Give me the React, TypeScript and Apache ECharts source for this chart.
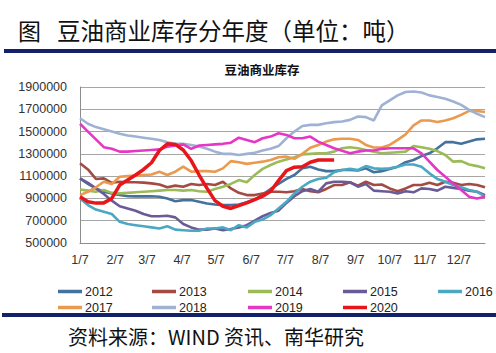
import React, { useEffect, useRef } from "react";
import * as echarts from "echarts";

// Tick labels (month/day) and their day offsets from Jan 7
const MONTH_LABELS = ["1/7", "2/7", "3/7", "4/7", "5/7", "6/7", "7/7", "8/7", "9/7", "10/7", "11/7", "12/7"];
const MONTH_DAYS = [0, 31, 59, 90, 120, 151, 181, 212, 243, 273, 304, 334];

const YEARS = ["2012", "2013", "2014", "2015", "2016", "2017", "2018", "2019", "2020"];
const COLORS = ["#43729F", "#A34A43", "#9BBB59", "#6A5B96", "#4BA8C3", "#E99A4E", "#9FB2D4", "#E536C6", "#E8151B"];

// Weekly commercial soybean-oil stocks (tons), first week = Jan 7
const S2012 = [1080000, 1030000, 990000, 960000, 945000, 930000, 920000, 918000, 918000, 920000, 915000, 900000, 875000, 885000, 885000, 870000, 855000, 845000, 840000, 840000, 845000, 865000, 890000, 935000, 985000, 1030000, 1075000, 1110000, 1170000, 1185000, 1160000, 1145000, 1145000, 1155000, 1155000, 1150000, 1170000, 1135000, 1145000, 1165000, 1185000, 1225000, 1245000, 1280000, 1305000, 1350000, 1405000, 1405000, 1390000, 1410000, 1430000, 1435000];
const S2013 = [1215000, 1160000, 1075000, 1080000, 1040000, 1050000, 1045000, 1045000, 1042000, 1035000, 1025000, 1000000, 1015000, 1005000, 1030000, 1020000, 1030000, 1020000, 1050000, 990000, 950000, 930000, 930000, 945000, 960000, 960000, 955000, 965000, 985000, 965000, 955000, 985000, 1020000, 1020000, 1045000, 1015000, 1050000, 1020000, 1025000, 990000, 965000, 990000, 1020000, 1020000, 1040000, 1020000, 1050000, 1040000, 1020000, 1030000, 1020000, 1000000];
const S2014 = [980000, 970000, 960000, 975000, 950000, 945000, 950000, 955000, 960000, 965000, 970000, 975000, 975000, 970000, 975000, 965000, 960000, 985000, 1005000, 1030000, 1065000, 1045000, 1110000, 1165000, 1200000, 1230000, 1250000, 1270000, 1295000, 1300000, 1305000, 1305000, 1320000, 1350000, 1360000, 1350000, 1335000, 1320000, 1305000, 1310000, 1315000, 1320000, 1370000, 1360000, 1345000, 1325000, 1290000, 1230000, 1235000, 1205000, 1190000, 1170000];
const S2015 = [1080000, 1040000, 990000, 940000, 880000, 830000, 810000, 790000, 760000, 740000, 740000, 745000, 730000, 670000, 640000, 620000, 620000, 630000, 615000, 625000, 640000, 660000, 700000, 740000, 770000, 790000, 860000, 920000, 965000, 985000, 960000, 1035000, 1050000, 1050000, 1045000, 1005000, 1030000, 970000, 965000, 960000, 945000, 965000, 955000, 990000, 985000, 970000, 1005000, 995000, 985000, 970000, 960000, 930000];
const S2016 = [900000, 840000, 800000, 780000, 760000, 690000, 670000, 660000, 650000, 640000, 630000, 650000, 620000, 615000, 610000, 610000, 630000, 630000, 640000, 615000, 660000, 640000, 690000, 710000, 750000, 810000, 870000, 945000, 1005000, 1050000, 1075000, 1085000, 1135000, 1155000, 1165000, 1155000, 1190000, 1170000, 1165000, 1170000, 1185000, 1205000, 1205000, 1185000, 1125000, 1075000, 1050000, 1020000, 1000000, 975000, 960000, 915000];
const S2017 = [930000, 960000, 1000000, 1050000, 1030000, 1095000, 1100000, 1105000, 1110000, 1115000, 1140000, 1110000, 1140000, 1185000, 1140000, 1145000, 1145000, 1140000, 1170000, 1235000, 1225000, 1210000, 1220000, 1230000, 1245000, 1270000, 1275000, 1255000, 1300000, 1355000, 1380000, 1410000, 1430000, 1435000, 1435000, 1425000, 1380000, 1357000, 1357000, 1380000, 1425000, 1475000, 1555000, 1600000, 1600000, 1585000, 1600000, 1620000, 1650000, 1685000, 1685000, 1675000];
const S2018 = [1620000, 1570000, 1540000, 1520000, 1500000, 1480000, 1465000, 1455000, 1445000, 1435000, 1425000, 1405000, 1390000, 1390000, 1380000, 1365000, 1345000, 1320000, 1300000, 1300000, 1290000, 1300000, 1310000, 1330000, 1345000, 1370000, 1440000, 1500000, 1550000, 1560000, 1560000, 1575000, 1585000, 1590000, 1605000, 1635000, 1630000, 1600000, 1735000, 1780000, 1825000, 1855000, 1860000, 1850000, 1825000, 1810000, 1795000, 1770000, 1740000, 1695000, 1660000, 1630000];
const S2019 = [1570000, 1500000, 1430000, 1360000, 1345000, 1320000, 1320000, 1325000, 1330000, 1335000, 1340000, 1365000, 1375000, 1385000, 1345000, 1375000, 1380000, 1385000, 1390000, 1400000, 1445000, 1425000, 1405000, 1440000, 1455000, 1485000, 1470000, 1440000, 1440000, 1455000, 1410000, 1380000, 1350000, 1327000, 1305000, 1320000, 1330000, 1330000, 1345000, 1350000, 1350000, 1350000, 1350000, 1305000, 1230000, 1155000, 1095000, 1035000, 975000, 915000, 900000, 915000];
const S2020 = [915000, 870000, 858000, 860000, 900000, 1020000, 1065000, 1110000, 1160000, 1220000, 1330000, 1390000, 1385000, 1335000, 1240000, 1110000, 990000, 880000, 830000, 810000, 835000, 860000, 890000, 920000, 965000, 1060000, 1150000, 1180000, 1185000, 1225000, 1245000, 1245000, 1245000];

const ALL = [S2012, S2013, S2014, S2015, S2016, S2017, S2018, S2019, S2020];

const LEGEND_POS = [
  [53, 280], [147, 280], [243, 280], [338, 280], [433, 280],
  [53, 296], [147, 296], [243, 296], [338, 296],
];

export default function App() {
  const ref = useRef<HTMLDivElement>(null);
  useEffect(() => {
    if (!ref.current) return;
    const chart = echarts.init(ref.current, undefined, { renderer: "svg" });
    const series = YEARS.map((y, k) => ({
      name: y,
      type: "line",
      data: ALL[k].map((v, i) => [i * 7, v]),
      showSymbol: false,
      lineStyle: { width: y === "2020" ? 3.5 : 2.6, color: COLORS[k] },
      itemStyle: { color: COLORS[k] },
      z: 2 + k,
    }));
    const legends = YEARS.map((y, k) => ({
      data: [y],
      left: LEGEND_POS[k][0],
      top: LEGEND_POS[k][1],
      icon: "rect",
      itemWidth: 24,
      itemHeight: 3.5,
      textStyle: { fontSize: 12.5, color: "#222", fontFamily: "Liberation Sans, Arial, sans-serif", padding: [0, 0, 0, -2] },
      selectedMode: false,
    }));
    chart.setOption({
      animation: false,
      backgroundColor: "#fff",
      grid: { left: 80, right: 11, top: 87, height: 156 },
      legend: legends,
      xAxis: {
        type: "value",
        min: 0,
        max: 357,
        axisLine: { show: true, lineStyle: { color: "#8c8c8c", width: 1 } },
        axisTick: { show: false },
        splitLine: { show: false },
        axisLabel: {
          customValues: MONTH_DAYS,
          formatter: (v: number) => {
            const idx = MONTH_DAYS.indexOf(Math.round(v));
            return idx >= 0 ? MONTH_LABELS[idx] : "";
          },
          fontSize: 12.5,
          color: "#333",
          margin: 10,
          fontFamily: "Liberation Sans, Arial, sans-serif",
        },
      },
      yAxis: {
        type: "value",
        min: 500000,
        max: 1900000,
        interval: 200000,
        axisLine: { show: true, lineStyle: { color: "#8c8c8c", width: 1 } },
        axisTick: { show: false },
        splitLine: { show: true, lineStyle: { color: "#a6a6a6", width: 1 } },
        axisLabel: {
          formatter: (v: number) => String(v),
          fontSize: 12.5,
          color: "#333",
          margin: 13,
          fontFamily: "Liberation Sans, Arial, sans-serif",
        },
      },
      graphic: [
        { type: "text", left: 18, top: 18, style: { text: "图", fontSize: 23, fill: "#111", fontFamily: "Noto Sans CJK SC" } },
        { type: "text", left: 57, top: 18, style: { text: "豆油商业库存分年度（单位：吨）", fontSize: 23.5, fill: "#111", fontFamily: "Noto Sans CJK SC" } },
        { type: "rect", shape: { x: 4, y: 49, width: 492, height: 4 }, style: { fill: "#13206A" } },
        { type: "text", x: 262, y: 69, style: { text: "豆油商业库存", fontSize: 12.5, fontWeight: "bold", fill: "#111", fontFamily: "Noto Sans CJK SC", align: "center", verticalAlign: "middle" } },
        { type: "rect", shape: { x: 2, y: 313, width: 494, height: 4 }, style: { fill: "#13206A" } },
        { type: "text", left: 68, top: 326, style: { text: "资料来源：WIND 资讯、南华研究", fontSize: 20, fill: "#111", fontFamily: "Noto Sans CJK SC" } },
      ],
      series,
    });
    return () => chart.dispose();
  }, []);
  return <div ref={ref} style={{ position: "fixed", left: 0, top: 0, width: 496, height: 353 }} />;
}
